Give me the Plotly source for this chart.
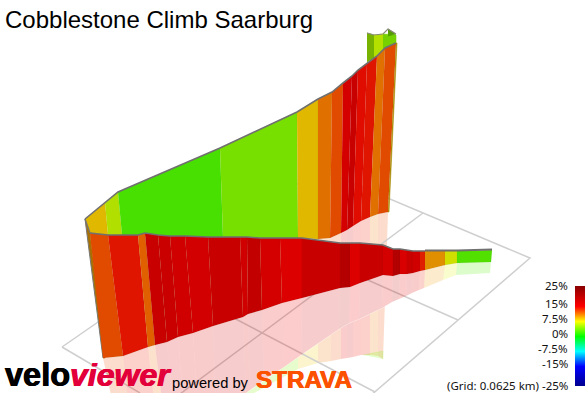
import numpy as np
import plotly.graph_objects as go
from plotly.colors import sample_colorscale

TITLE = "Cobblestone Climb Saarburg"
LEGEND_TICKS = [25, 15, 7.5, 0, -7.5, -15, -25]
LEGEND_TEXT = ["25%", "15%", "7.5%", "0%", "-7.5%", "-15%", "(Grid: 0.0625 km) -25%"]

# far (back) wall of the ribbon
back_top_x = [85, 105, 118, 220, 297, 318, 332, 343, 352, 358, 367, 377, 385, 396]
back_top_y = [219, 203, 192, 148, 112, 99, 92, 83, 76, 70, 63, 56, 48, 43]
back_bot_x = [90, 108, 122, 223, 298, 318, 330, 341, 347, 353, 361, 370, 378, 388]
back_bot_y = [233, 235, 235, 238, 238, 239, 238, 233, 230, 226, 221, 217, 214, 212]
back_shadow_x = [125, 125, 125, 223, 298, 318, 331, 341, 347, 353, 361, 370, 378, 383]
back_shadow_y = [470, 470, 470, 410, 369, 363, 361, 359, 358, 357, 355, 355, 356, 359]
back_grade = [8.85, 5.9, 2.4, 4.0, 8.85, 11.25, 12.5, 16.2, 17.4, 14.6, 14.3, 11.25, 12.5]

# near (front) wall
front_top_x = [90, 108, 138, 145, 158, 170, 185, 208, 240, 247, 260, 280, 302, 340, 350, 360, 383, 393, 400, 407, 413, 420, 425, 445, 457, 492]
front_top_y = [233, 235, 235, 233, 235, 236, 236, 237, 237, 237, 238, 238, 238, 243, 243, 243, 245, 249, 249, 250, 251, 251, 251, 251, 251, 250]
front_bot_x = [103, 123, 148, 155, 167, 178, 193, 213, 243, 248, 262, 282, 302, 340, 350, 360, 383, 393, 400, 407, 413, 420, 425, 445, 457, 491]
front_bot_y = [358, 356, 347, 345, 342, 337, 333, 326, 317, 314, 310, 303, 298, 288, 287, 283, 275, 276, 274, 274, 273, 271, 270, 265, 263, 262]
front_shadow_x = [112, 128, 154, 162, 173, 184, 198, 216, 246, 250, 264, 284, 301, 339, 349, 359, 382, 392, 399, 406, 412, 419, 424, 443, 456, 490]
front_shadow_y = [400, 400, 400, 400, 405, 410, 415, 415, 393, 390, 380, 367, 355, 329, 323, 319, 308, 302, 299, 296, 293, 290, 288, 280, 275, 273]
front_grade = [12.5, 14.3, 11.8, 17.4, 17.2, 16.6, 16.4, 17.4, 16.6, 18, 16.2, 15.4, 17.4, 19.2, 15.4, 17.4, 16.2, 19.5, 15.8, 17.4, 16.6, 14, 10.2, 6.9, 2.7]

# short tail of the ribbon, seen behind the top of the back wall
tail_top_x = [367, 374, 383, 396]
tail_top_y = [33, 35, 34, 35]
tail_bot_x = [367, 374, 383, 396]
tail_bot_y = [62, 58, 50, 44]
tail_grade = [5.0, 6.0, 4.2]
tail_shade = [0.70, 0.88, 0.82]

GRID = [
    ([62, 319, 530, 340], [347, 169, 258, 422]),
    ([62, 140], [347, 393]),
    ([423, 180], [213, 394]),
    ([458, 300], [320, 250]),
    ([375, 150], [392, 274]),
]

STOPS = [[-25, "#00008b"], [-15, "#0000ff"], [-7.5, "#00ffff"], [0, "#00ff00"],
         [7.5, "#ffff00"], [15, "#ff0000"], [25, "#8b0000"]]
SCALE = [[(g + 25) / 50, c] for g, c in STOPS]


def rgb(grade, shade=0.88, alpha=1.0):
    s = sample_colorscale(SCALE, [(grade + 25) / 50], colortype="rgb")[0]
    vals = [float(v) for v in s[s.index("(") + 1:-1].split(",")]
    r, g, b = [int(round(v * shade)) for v in vals]
    return f"rgba({r},{g},{b},{alpha})"


fig = go.Figure()


def poly(xs, ys, color, edge=None, width=0.6):
    fig.add_trace(go.Scatter(x=xs, y=ys, mode="lines", fill="toself", fillcolor=color,
                             line=dict(color=edge or color, width=width),
                             hoverinfo="skip", showlegend=False))


def band(x1, y1, x2, y2, grades, alpha=1.0, shade=0.88, edge=None):
    for i, g in enumerate(grades):
        poly([x1[i], x1[i + 1], x2[i + 1], x2[i]], [y1[i], y1[i + 1], y2[i + 1], y2[i]],
             rgb(g, shade, alpha), edge=edge if edge else "rgba(0,0,0,0)", width=0.6)


def stroke(xs, ys, color="#707070", width=1.6):
    fig.add_trace(go.Scatter(x=xs, y=ys, mode="lines", line=dict(color=color, width=width),
                             hoverinfo="skip", showlegend=False))


# ground shadow of the back wall, then the front one hides it
band(back_bot_x, back_bot_y, back_shadow_x, back_shadow_y, back_grade, alpha=0.2, shade=0.95)
poly([363, 383, 383], [355, 351, 359], rgb(3.5, 1.0, 0.2))
poly(front_bot_x + front_shadow_x[::-1], front_bot_y + front_shadow_y[::-1], "#ffffff")
for gx, gy in GRID:
    stroke(gx, gy, "#cfcfcf", 1.5)
band(front_bot_x, front_bot_y, front_shadow_x, front_shadow_y, front_grade, alpha=0.2, shade=0.95)

# tail
for i, g in enumerate(tail_grade):
    poly([tail_top_x[i], tail_top_x[i + 1], tail_bot_x[i + 1], tail_bot_x[i]],
         [tail_top_y[i], tail_top_y[i + 1], tail_bot_y[i + 1], tail_bot_y[i]], rgb(g, tail_shade[i]))
poly([388, 396, 388], [29, 34, 36], rgb(4.0, 0.62))
stroke(tail_top_x[:3] + [388, 396], tail_top_y[:3] + [29, 34], "#8a8a7a", 1.1)

# walls
band(back_top_x, back_top_y, back_bot_x, back_bot_y, back_grade, edge="rgba(0,0,0,0.07)")
poly([396, 397, 389, 388], [43, 43, 212, 212], "#a88a00")
poly([85, 90, 105, 103], [219, 233, 358, 358], "#a87000")
stroke([85, 103], [219, 358], "#777777", 1.0)
band(front_top_x, front_top_y, front_bot_x, front_bot_y, front_grade, edge="rgba(0,0,0,0.08)")

stroke(back_top_x, back_top_y)
stroke(front_top_x[:-3], front_top_y[:-3])
stroke(front_top_x[-4:], [y - 0.5 for y in front_top_y[-4:]], "#707070", 2.2)
stroke([85, 90], [219, 233], "#777777", 1.2)

# legend bar
levels = [float(v) for v in np.arange(-25, 25.5, 0.5)]
fig.add_trace(go.Heatmap(x=[0, 1], y=levels, z=[[v, v] for v in levels], colorscale=SCALE, zmin=-25, zmax=25,
                         showscale=False, xaxis="x2", yaxis="y2", hoverinfo="skip"))


def note(text, x, y, size, color="#000000", family="Liberation Sans", weight=None, style=None, heavy=False):
    shadow = f"0.5px 0 0 {color}, -0.5px 0 0 {color}" if heavy else "none"
    fig.add_annotation(text=text, x=x, y=y, xref="x", yref="y", showarrow=False, xanchor="left",
                       yanchor="middle", align="left",
                       font=dict(size=size, color=color, family=family, weight=weight, style=style, shadow=shadow))


note(TITLE, 3, 19.5, 24)
note("velo", 3, 375, 32.5, "#000000", "Liberation Sans", weight=700, heavy=True)
note("viewer", 68, 375, 32, "#e3003a", "Liberation Sans Narrow, Liberation Sans", weight=700, style="italic", heavy=True)
note("powered by", 170, 383, 14.7)
note("STRAVA", 254, 379.5, 24.2, "#fc5200", "Liberation Sans", weight=700, heavy=True)

for val, label in zip(LEGEND_TICKS, LEGEND_TEXT):
    fig.add_annotation(text=label, x=570, y=val, xref="x", yref="y2", showarrow=False, xanchor="right",
                       yanchor="middle", align="right", yshift=1 if abs(val) == 25 else 3,
                       font=dict(size=11.5, color="#111111", family="Noto Sans"))

fig.update_layout(
    width=587, height=393, autosize=False,
    margin=dict(l=0, r=0, t=0, b=0, pad=0),
    paper_bgcolor="white", plot_bgcolor="rgba(0,0,0,0)",
    xaxis=dict(range=[0, 587], visible=False, domain=[0, 1], fixedrange=True),
    yaxis=dict(range=[393, 0], visible=False, domain=[0, 1], fixedrange=True),
    xaxis2=dict(domain=[575 / 587, 585 / 587], anchor="y2", showticklabels=False, ticks="", showgrid=False,
                zeroline=False, showline=False, range=[-0.5, 1.5]),
    yaxis2=dict(domain=[7 / 393, 107 / 393], anchor="x2", range=[-25, 25], side="left",
                showticklabels=False, ticks="", showgrid=False, zeroline=False, showline=False),
    showlegend=False,
)
fig.write_html("out.html", config={"displayModeBar": False},
               post_script="document.body.style.margin='0';document.body.style.overflow='hidden';")
